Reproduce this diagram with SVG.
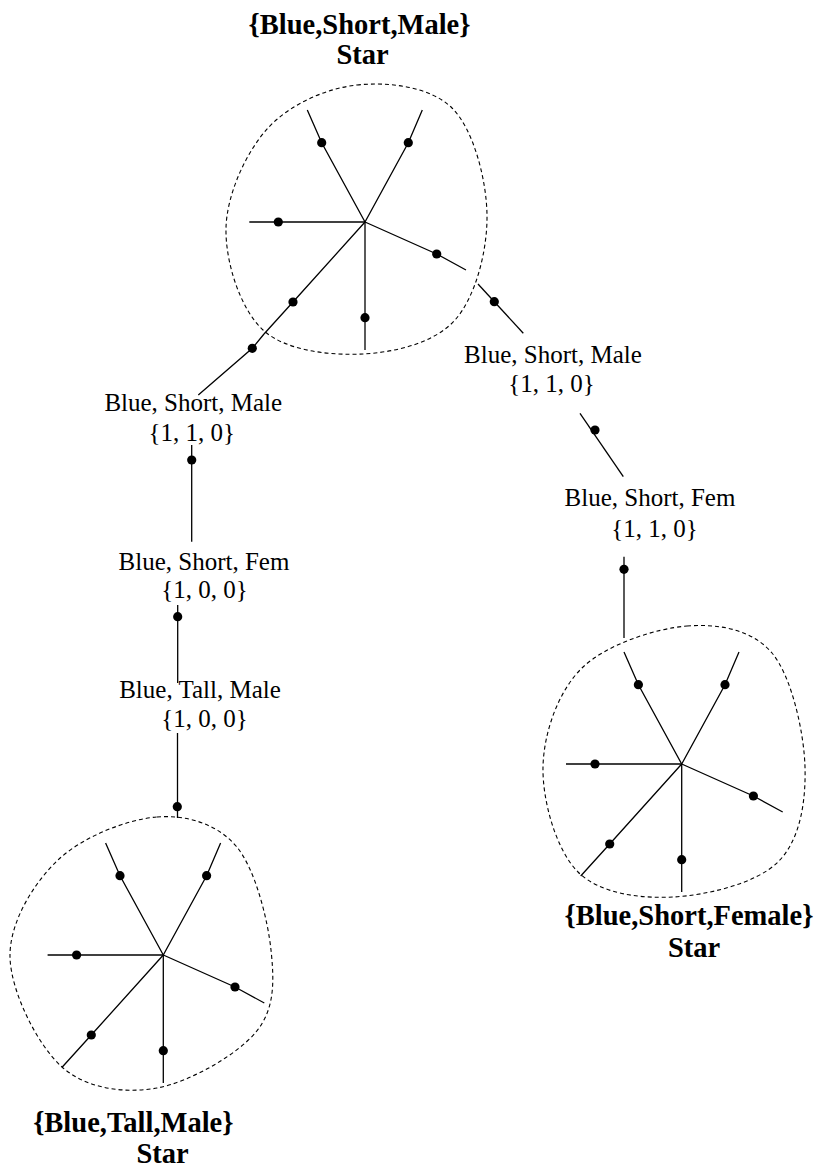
<svg xmlns="http://www.w3.org/2000/svg" width="820" height="1172" viewBox="0 0 820 1172">
<style>
.ray{fill:none;stroke:#000;stroke-width:1.3}
.con{fill:none;stroke:#000;stroke-width:1.3}
.blob{fill:none;stroke:#000;stroke-width:1.1;stroke-dasharray:4 3}
.dot{fill:#000}
.lbl{font-family:"Liberation Serif","Times New Roman",serif;font-size:25px;fill:#000;text-anchor:middle}
.ttl{font-family:"Liberation Serif","Times New Roman",serif;font-size:28.5px;font-weight:bold;fill:#000;text-anchor:middle}
</style>
<defs>
<g id="rays">
<path class="ray" d="M0,0 L-43.3,-79.3 L-57.7,-112"/>
<path class="ray" d="M0,0 L43.3,-79.3 L57.3,-112"/>
<path class="ray" d="M0,0 L-115.7,0"/>
<path class="ray" d="M0,0 L71.7,32 L101,48"/>
<path class="ray" d="M0,0 L0,128"/>
<path class="ray" d="M0,0 L-72,80 L-101,112"/>
<circle class="dot" cx="-43.3" cy="-79.3" r="4.6"/>
<circle class="dot" cx="43.3" cy="-79.3" r="4.6"/>
<circle class="dot" cx="-86.7" cy="0" r="4.6"/>
<circle class="dot" cx="71.7" cy="32" r="4.6"/>
<circle class="dot" cx="0" cy="95.7" r="4.6"/>
<circle class="dot" cx="-72" cy="80" r="4.6"/>
</g>
</defs>

<g id="star-blue-short-male">
<path class="blob" d="M357,85 C387.7,81.7 430.3,86.3 452,108 C473.7,129.7 486.5,179.7 487,215 C487.5,250.3 475.7,296.8 455,320 C434.3,343.2 395,352.3 363,354 C331,355.7 285.8,351 263,330 C240.2,309 225.2,261.7 226,228 C226.8,194.3 246.2,151.8 268,128 C289.8,104.2 326.3,88.3 357,85 Z"/>
<use href="#rays" transform="translate(365,222)"/>
<text class="ttl" x="359.5" y="34">{Blue,Short,Male}</text>
<text class="ttl" x="362.5" y="64">Star</text>
</g>

<g id="star-blue-short-female">
<path class="blob" d="M687,626 C718.7,623.5 752.3,629.5 772,653 C791.7,676.5 804,732.2 805,767 C806,801.8 800,840.3 778,862 C756,883.7 706.3,895.3 673,897 C639.7,898.7 599.7,893.7 578,872 C556.3,850.3 542.3,801 543,767 C543.7,733 558,691.5 582,668 C606,644.5 655.3,628.5 687,626 Z"/>
<use href="#rays" transform="translate(681.7,764)"/>
<text class="ttl" x="689" y="925">{Blue,Short,Female}</text>
<text class="ttl" x="694" y="957">Star</text>
</g>

<g id="star-blue-tall-male">
<path class="blob" d="M157,817 C186.7,814.7 217,823.8 236,846 C255,868.2 267.7,919 271,950 C274.3,981 275,1009 256,1032 C237,1055 189.3,1082.2 157,1088 C124.7,1093.8 86.5,1088.8 62,1067 C37.5,1045.2 10.7,991.5 10,957 C9.3,922.5 33.5,883.3 58,860 C82.5,836.7 127.3,819.3 157,817 Z"/>
<use href="#rays" transform="translate(163.3,955)"/>
<text class="ttl" x="133.3" y="1132">{Blue,Tall,Male}</text>
<text class="ttl" x="162.5" y="1163">Star</text>
</g>

<g id="label-l1">
<text class="lbl" x="193.3" y="411">Blue, Short, Male</text>
<text class="lbl" x="191.7" y="441">{1, 1, 0}</text>
</g>
<g id="label-l2">
<text class="lbl" x="204" y="570">Blue, Short, Fem</text>
<text class="lbl" x="204.5" y="598">{1, 0, 0}</text>
</g>
<g id="label-l3">
<text class="lbl" x="200" y="698">Blue, Tall, Male</text>
<text class="lbl" x="204.5" y="727">{1, 0, 0}</text>
</g>
<g id="label-r1">
<text class="lbl" x="553" y="363">Blue, Short, Male</text>
<text class="lbl" x="551.5" y="392">{1, 1, 0}</text>
</g>
<g id="label-r2">
<text class="lbl" x="650" y="506">Blue, Short, Fem</text>
<text class="lbl" x="654.5" y="537">{1, 1, 0}</text>
</g>

<g id="connectors">
<path class="con" d="M264,334 L252.3,348.3 L198.3,395"/>
<circle class="dot" cx="252.3" cy="348.3" r="4.6"/>
<path class="con" d="M191.7,445 V541.7"/>
<circle class="dot" cx="191.7" cy="460" r="4.6"/>
<path class="con" d="M177.7,605 V683"/>
<circle class="dot" cx="177.7" cy="616.7" r="4.6"/>
<path class="con" d="M177.5,733 V818"/>
<circle class="dot" cx="177.3" cy="806.7" r="4.6"/>
<path class="con" d="M478,284 L523.3,333.3"/>
<circle class="dot" cx="494.3" cy="301.7" r="4.6"/>
<path class="con" d="M580,413.3 L623.3,476.7"/>
<circle class="dot" cx="595" cy="430" r="4.6"/>
<path class="con" d="M624,556.7 V638"/>
<circle class="dot" cx="624" cy="569.3" r="4.6"/>
</g>
</svg>
